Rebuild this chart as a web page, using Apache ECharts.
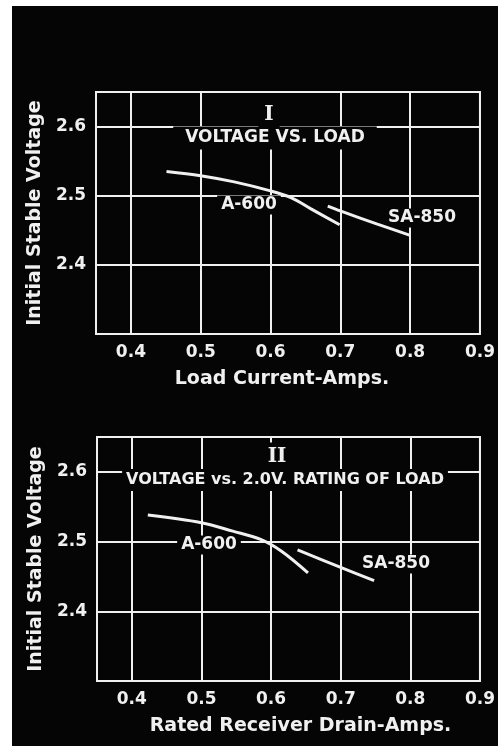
<!DOCTYPE html>
<html>
<head>
<meta charset="utf-8">
<script src="https://cdn.jsdelivr.net/npm/echarts@6/dist/echarts.min.js"></script>
<style>
html,body{margin:0;padding:0;background:#fff;}
#bg{position:absolute;left:12px;top:6px;width:486px;height:740px;background:#050505;}
#chart{position:absolute;left:0;top:0;width:498px;height:746px;}
</style>
</head>
<body>
<div id="bg"></div>
<div id="chart"></div>
<script>
// Chart I: Voltage vs. Load
const load_a600_x = [0.451, 0.50, 0.548, 0.60, 0.63, 0.658, 0.699];
const load_a600_y = [2.535, 2.529, 2.520, 2.507, 2.497, 2.481, 2.458];
const load_sa850_x = [0.682, 0.70, 0.753, 0.799];
const load_sa850_y = [2.485, 2.478, 2.459, 2.443];
// Chart II: Voltage vs. 2.0 V rating of load
const rated_a600_x = [0.423, 0.50, 0.545, 0.585, 0.615, 0.653];
const rated_a600_y = [2.538, 2.527, 2.515, 2.503, 2.486, 2.455];
const rated_sa850_x = [0.638, 0.70, 0.748];
const rated_sa850_y = [2.488, 2.463, 2.444];

const xMin = 0.35, xMax = 0.9;
const yMin = 2.3, yMax = 2.65;

const titles = ['VOLTAGE VS. LOAD', 'VOLTAGE vs. 2.0V. RATING OF LOAD'];
const numerals = ['I', 'II'];
const xNames = ['Load Current-Amps.', 'Rated Receiver Drain-Amps.'];
const yName = 'Initial Stable Voltage';
const seriesNames = ['A-600', 'SA-850'];

function pairs(xs, ys){ return xs.map((x,i)=>[x, ys[i]]); }

const W = '#f0f0f0';
const BG = '#050505';
const FONT = 'DejaVu Sans';

const chart = echarts.init(document.getElementById('chart'), null, {renderer:'canvas'});

function xAxis(idx, nameShift){
  return {
    type:'value', gridIndex:idx, min:xMin, max:xMax, splitNumber:5,
    axisLine:{show:false}, axisTick:{show:false},
    axisLabel:{color:W, fontFamily:FONT, fontWeight:'bold', fontSize:17, margin:10,
      showMinLabel:false, formatter:v=>v.toFixed(1)},
    splitLine:{show:true, lineStyle:{color:W, width:2}},
    name:xNames[idx], nameLocation:'middle', nameGap:36,
    nameTextStyle:{color:W, fontFamily:FONT, fontWeight:'bold', fontSize:19, padding:[0,0,0,nameShift]}
  };
}
function yAxis(idx){
  return {
    type:'value', gridIndex:idx, min:yMin, max:yMax, splitNumber:4,
    axisLine:{show:false}, axisTick:{show:false},
    axisLabel:{color:W, fontFamily:FONT, fontWeight:'bold', fontSize:17, margin:10,
      showMinLabel:false, showMaxLabel:false, formatter:v=>v.toFixed(1)},
    splitLine:{show:true, lineStyle:{color:W, width:2}},
    name:yName, nameLocation:'middle', nameGap:46,
    nameTextStyle:{color:W, fontFamily:FONT, fontWeight:'bold', fontSize:19}
  };
}
function line(idx, name, data){
  return {type:'line', name:name, xAxisIndex:idx, yAxisIndex:idx, data:data,
    smooth:0.35, showSymbol:false, symbol:'none', z:5,
    lineStyle:{color:W, width:3}};
}
function textG(txt, x, y, size, serif, pad){
  return {type:'text', x:x, y:y, z:1,
    style:{text:txt, fill:W, font:'bold '+size+'px '+(serif?'DejaVu Serif':FONT),
      align:'center', verticalAlign:'middle', lineHeight:size, backgroundColor:BG,
      padding: pad || [1,4]}};
}

const option = {
  backgroundColor:'transparent',
  animation:false,
  grid:[
    {left:96, top:92, right:18, bottom:412, show:true, borderColor:W, borderWidth:2, backgroundColor:'transparent'},
    {left:97, top:437, right:18, bottom:65, show:true, borderColor:W, borderWidth:2, backgroundColor:'transparent'}
  ],
  xAxis:[xAxis(0, -12), xAxis(1, 24)],
  yAxis:[yAxis(0), yAxis(1)],
  series:[
    line(0, seriesNames[0], pairs(load_a600_x, load_a600_y)),
    line(0, seriesNames[1], pairs(load_sa850_x, load_sa850_y)),
    line(1, seriesNames[0], pairs(rated_a600_x, rated_a600_y)),
    line(1, seriesNames[1], pairs(rated_sa850_x, rated_sa850_y))
  ],
  graphic:[
    textG(numerals[0], 269, 115, 20, true, [10,6,14,6]),
    textG(titles[0], 275, 138, 17, false, [3,12]),
    textG(seriesNames[0], 249, 205, 17),
    textG(seriesNames[1], 422, 218, 17),
    textG(numerals[1], 277, 457, 20, true, [3,6,6,6]),
    textG(titles[1], 285, 480, 16, false, [3,4]),
    textG(seriesNames[0], 209, 545, 17),
    textG(seriesNames[1], 396, 564, 17)
  ]
};
chart.setOption(option);
</script>
</body>
</html>
